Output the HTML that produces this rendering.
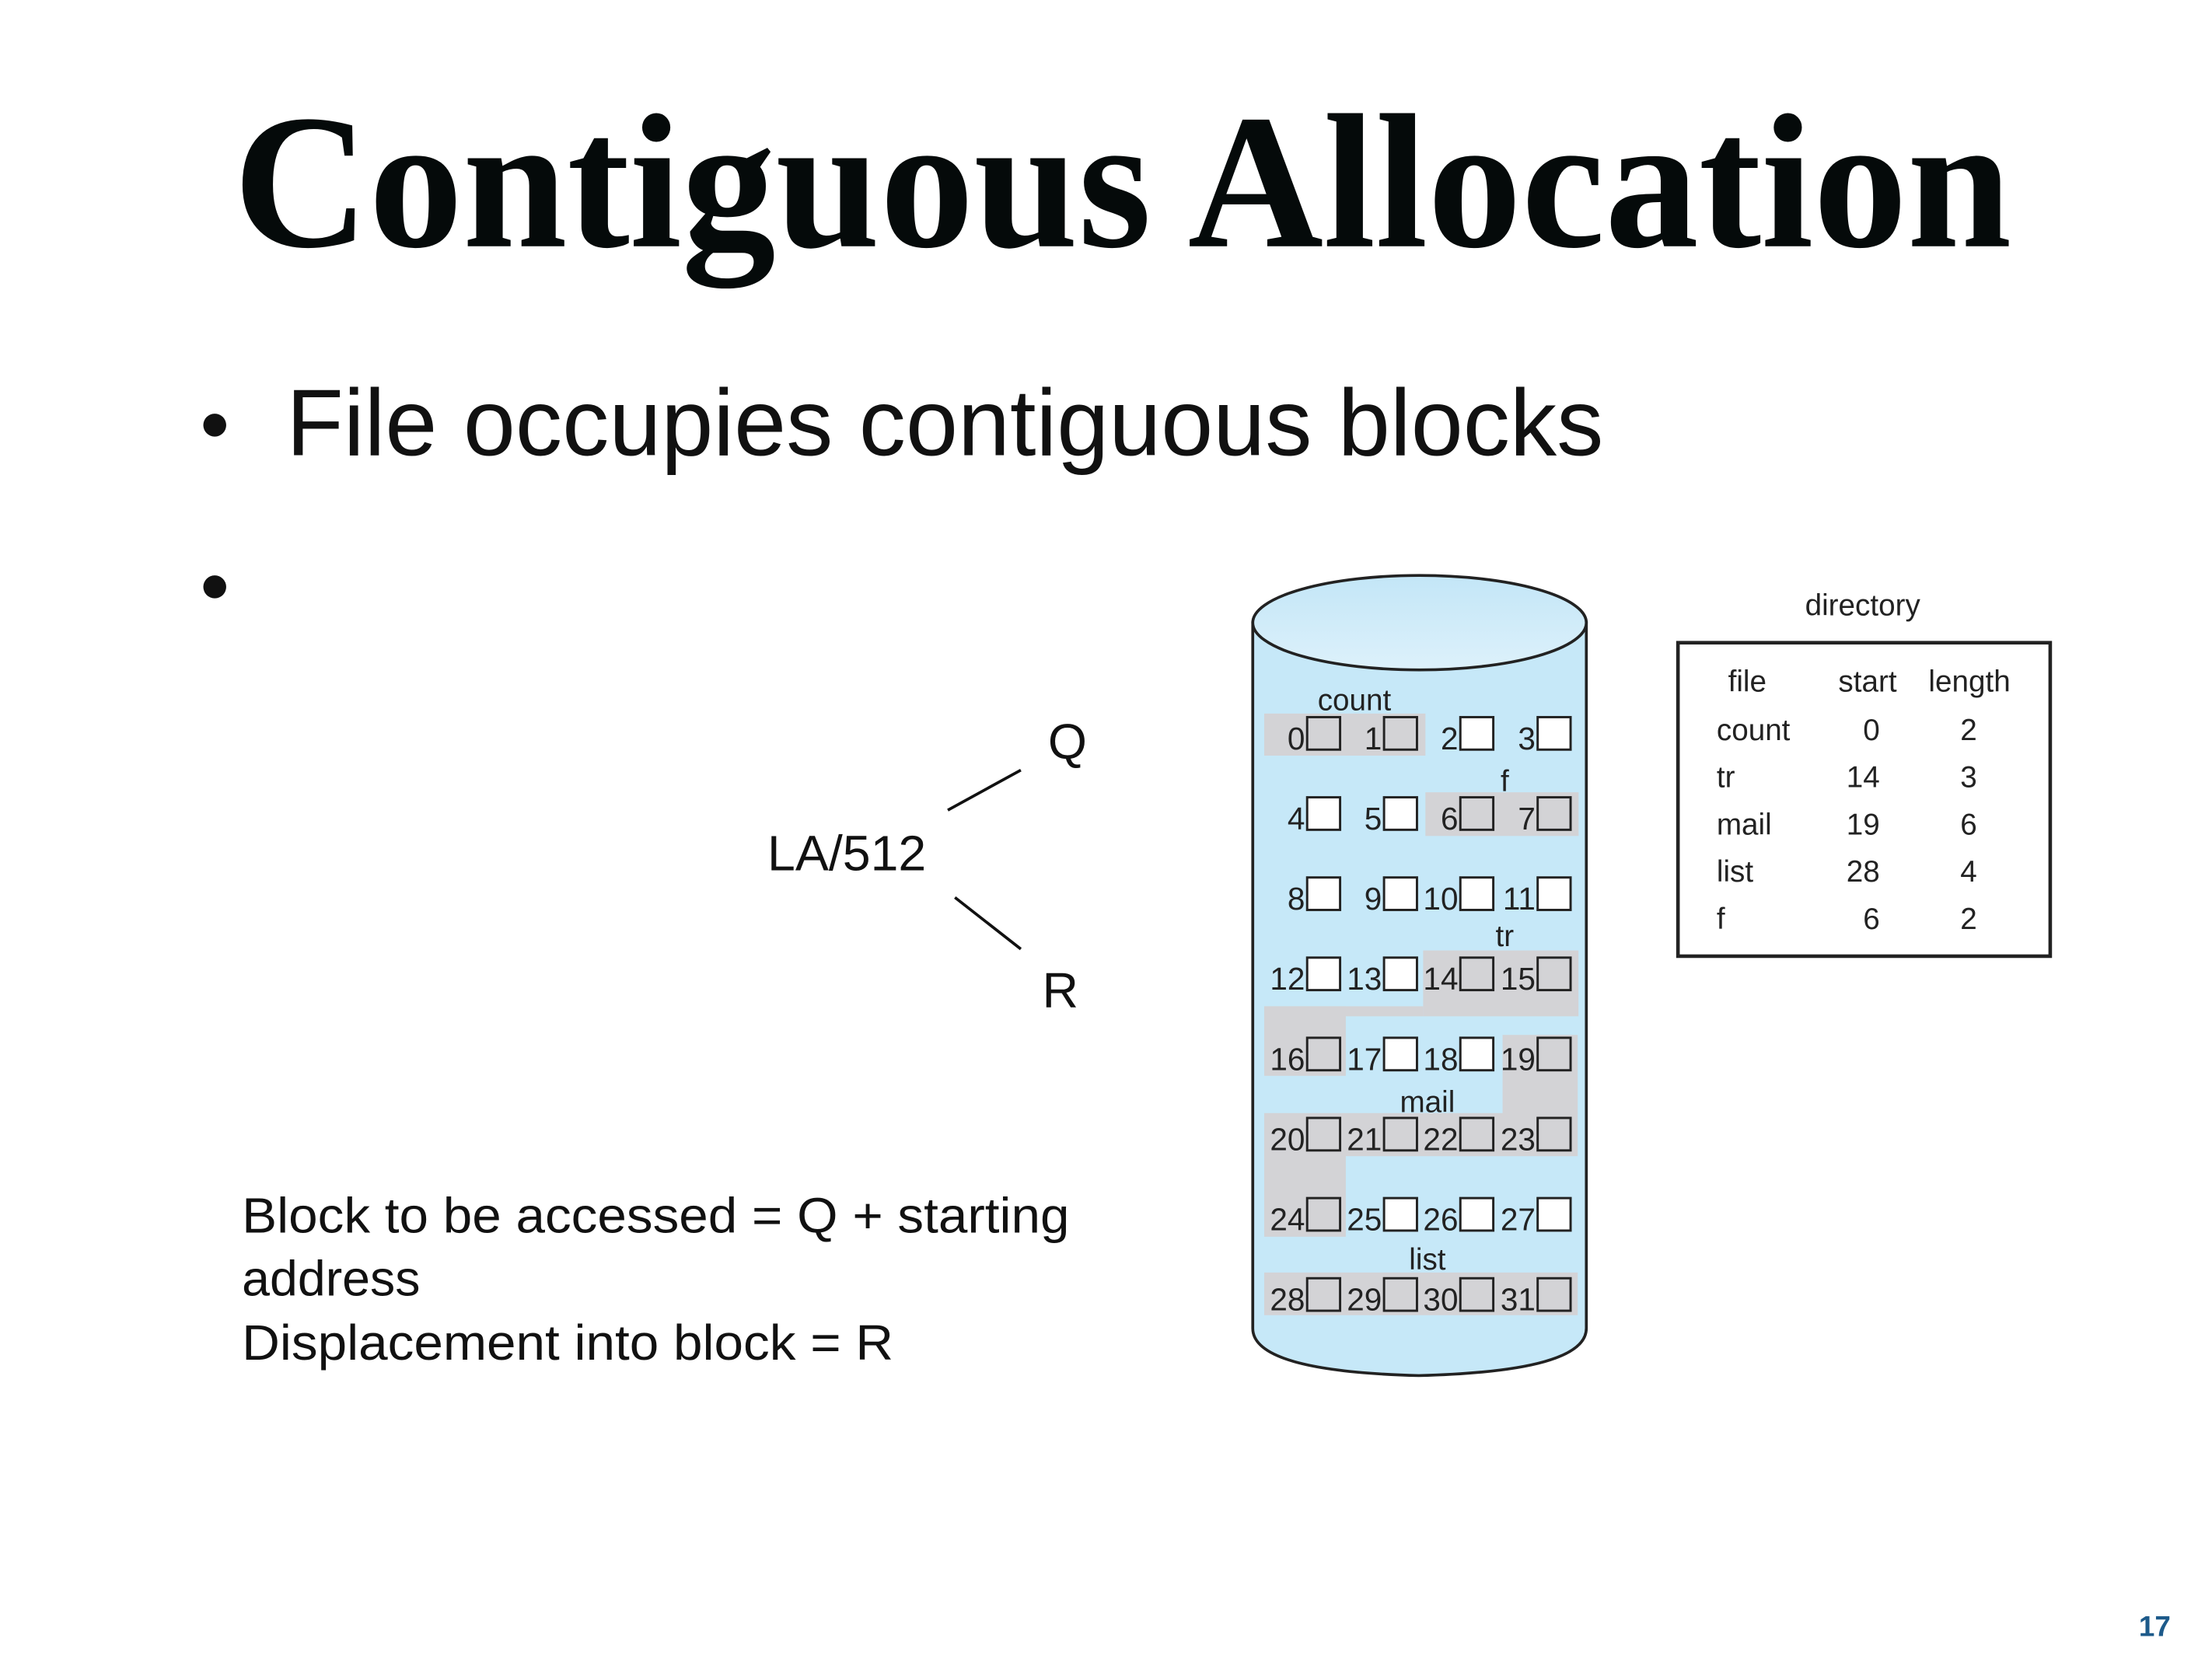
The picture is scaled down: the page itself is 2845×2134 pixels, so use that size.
<!DOCTYPE html>
<html><head><meta charset="utf-8"><style>
html,body{margin:0;padding:0;background:#fff;}
svg{display:block;}
</style></head><body>
<svg width="2845" height="2134" viewBox="0 0 1545 1159" preserveAspectRatio="none" xmlns="http://www.w3.org/2000/svg" font-family="Liberation Sans, sans-serif">
<rect width="1545" height="1159" fill="#fff"/>
<text x="163" y="172" font-family="Liberation Serif, serif" font-weight="bold" font-size="134" textLength="1242" lengthAdjust="spacingAndGlyphs" fill="#050a0a">Contiguous Allocation</text>
<circle cx="150" cy="297" r="8" fill="#111"/>
<text x="200" y="318" font-size="66" textLength="920" lengthAdjust="spacingAndGlyphs" fill="#111">File occupies contiguous blocks</text>
<circle cx="150" cy="410" r="8" fill="#111"/>

<text x="536" y="608" font-size="35" fill="#111">LA/512</text>
<text x="732" y="530" font-size="35" fill="#111">Q</text>
<text x="728" y="704" font-size="35" fill="#111">R</text>
<line x1="662" y1="566" x2="713" y2="538" stroke="#111" stroke-width="2"/>
<line x1="667" y1="627" x2="713" y2="663" stroke="#111" stroke-width="2"/>

<text x="169" y="861" font-size="35" textLength="578" lengthAdjust="spacingAndGlyphs" fill="#111">Block to be accessed = Q + starting</text>
<text x="169" y="905" font-size="35" fill="#111">address</text>
<text x="169" y="950" font-size="35" textLength="455" lengthAdjust="spacingAndGlyphs" fill="#111">Displacement into block = R</text>

<defs><linearGradient id="tg" x1="0" y1="0" x2="0" y2="1"><stop offset="0" stop-color="#c3e6f7"/><stop offset="1" stop-color="#ddf1fb"/></linearGradient></defs>
<path d="M875,435 L875,928 Q875,958 991,961 Q1108,958 1108,928 L1108,435 Z" fill="#c6e8f8" stroke="#222" stroke-width="2"/>
<ellipse cx="991.5" cy="435" rx="116.5" ry="33" fill="url(#tg)" stroke="#222" stroke-width="2"/>

<g fill="#d3d3d6">
<rect x="883" y="498.5" width="112.6" height="29.4"/>
<rect x="995.6" y="553.5" width="107" height="30.5"/>
<rect x="994" y="664" width="108.5" height="46"/>
<rect x="883" y="703" width="111" height="7"/>
<rect x="883" y="703" width="57" height="48.6"/>
<rect x="1049.5" y="723" width="52.5" height="55"/>
<rect x="883" y="777.6" width="219" height="30.1"/>
<rect x="883" y="807" width="57" height="57"/>
<rect x="883" y="889" width="219" height="29.8"/>
</g>

<g font-size="21" fill="#222" text-anchor="middle">
<text x="946" y="496">count</text>
<text x="1051" y="553">f</text>
<text x="1051" y="661">tr</text>
<text x="997" y="777">mail</text>
<text x="997" y="887">list</text>
</g>

<g id="boxes" stroke="#222" stroke-width="1.6">
</g>
<script>
(function(){
var g=document.getElementById('boxes');
var xs=[913,966.7,1020,1074];
var gray={0:1,1:1,6:1,7:1,14:1,15:1,16:1,19:1,20:1,21:1,22:1,23:1,24:1,28:1,29:1,30:1,31:1};
var ns='http://www.w3.org/2000/svg';
for(var i=0;i<32;i++){
 var r=Math.floor(i/4),c=i%4;
 var y=501+56*r;
 var rc=document.createElementNS(ns,'rect');
 rc.setAttribute('x',xs[c]);rc.setAttribute('y',y);rc.setAttribute('width',23);rc.setAttribute('height',22.7);
 rc.setAttribute('fill',gray[i]?'#d3d3d6':'#fff');
 g.appendChild(rc);
 var t=document.createElementNS(ns,'text');
 t.setAttribute('x',xs[c]-1.5);t.setAttribute('y',y+22.5);
 t.setAttribute('font-size','22');t.setAttribute('text-anchor','end');t.setAttribute('fill','#222');t.setAttribute('stroke','none');
 t.textContent=i;g.appendChild(t);
}
})();
</script>

<text x="1301" y="430" font-size="21" text-anchor="middle" fill="#222">directory</text>
<rect x="1172" y="449" width="260" height="219" fill="none" stroke="#222" stroke-width="2.5"/>
<g font-size="21" fill="#222">
<text x="1207" y="483">file</text><text x="1284" y="483">start</text><text x="1347" y="483">length</text>
<text x="1199" y="517">count</text><text x="1199" y="550">tr</text><text x="1199" y="583">mail</text><text x="1199" y="616">list</text><text x="1199" y="649">f</text>
</g>
<g font-size="21" fill="#222" text-anchor="end">
<text x="1313" y="517">0</text><text x="1313" y="550">14</text><text x="1313" y="583">19</text><text x="1313" y="616">28</text><text x="1313" y="649">6</text>
</g>
<g font-size="21" fill="#222" text-anchor="middle">
<text x="1375" y="517">2</text><text x="1375" y="550">3</text><text x="1375" y="583">6</text><text x="1375" y="616">4</text><text x="1375" y="649">2</text>
</g>

<text x="1505" y="1143" font-size="20" font-weight="bold" text-anchor="middle" fill="#1d5a8a">17</text>
</svg>
</body></html>
